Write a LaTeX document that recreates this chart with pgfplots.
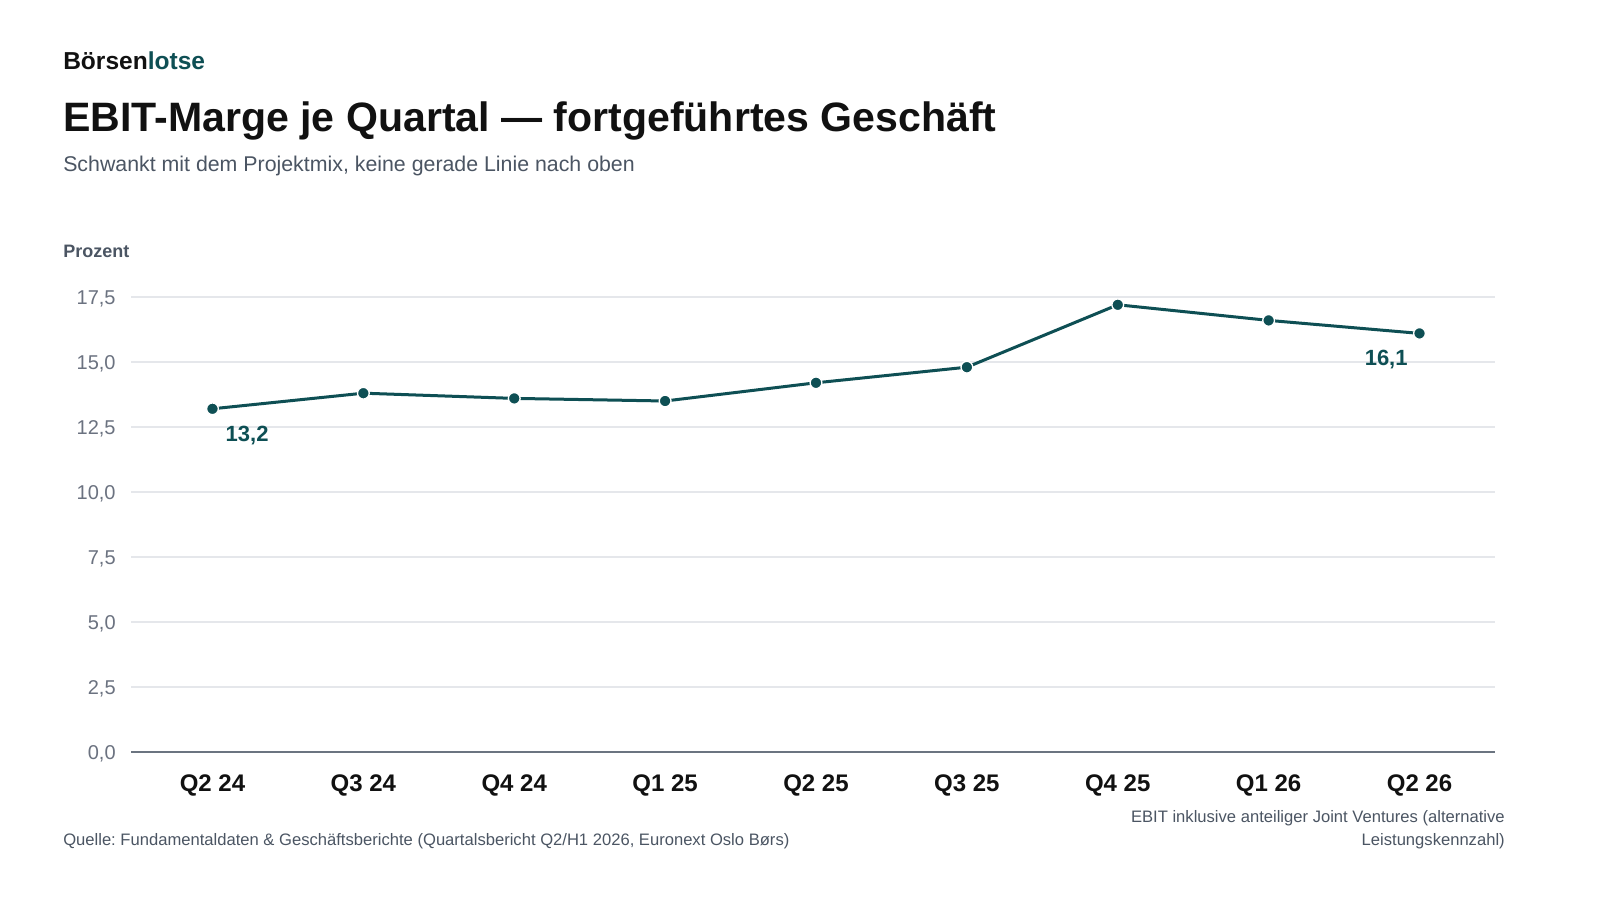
\documentclass[border=0pt]{standalone}
\usepackage{pgfplots}
\pgfplotsset{compat=1.18}
\usepackage{fontspec}
\setmainfont{Liberation Sans}
\frenchspacing
\definecolor{brandteal}{HTML}{0E4F54}
\definecolor{titleblack}{HTML}{111111}
\definecolor{subgray}{HTML}{4B5563}
\definecolor{tickgray}{HTML}{6B7280}
\definecolor{axisgray}{HTML}{6B7480}
\definecolor{gridgray}{HTML}{E5E7EB}
\begin{document}
\begin{tikzpicture}
\path[fill=white, use as bounding box] (0pt,0pt) rectangle (1200pt,675pt);
\node[anchor=base west, inner sep=0, font=\fontsize{18.4}{21}\selectfont\bfseries, text=titleblack] at (47.25pt,622.5pt) {Börsen\textcolor{brandteal}{lotse}};
\node[anchor=base west, inner sep=0, font=\fontsize{30.8}{36}\selectfont\bfseries, text=titleblack] at (47.25pt,576pt) {EBIT-Marge je Quartal — fortgeführtes Geschäft};
\node[anchor=base west, inner sep=0, font=\fontsize{16}{19}\selectfont, text=subgray] at (47.25pt,546pt) {Schwankt mit dem Projektmix, keine gerade Linie nach oben};
\node[anchor=base west, inner sep=0, font=\fontsize{13.5}{16}\selectfont\bfseries, text=subgray] at (47.25pt,481.5pt) {Prozent};
\begin{axis}[
  at={(98.25pt,111pt)}, anchor=south west,
  scale only axis, width=1023pt, height=341.25pt,
  xmin=-0.54, xmax=8.5, ymin=0, ymax=17.5,
  xtick={0,...,8},
  xticklabels={Q2 24,Q3 24,Q4 24,Q1 25,Q2 25,Q3 25,Q4 25,Q1 26,Q2 26},
  ytick={0,2.5,5,7.5,10,12.5,15,17.5},
  axis lines=left,
  axis line style={-},
  y axis line style={draw=none},
  x axis line style={draw=axisgray, line width=1.5pt},
  major tick length=0pt,
  ymajorgrids,
  grid style={draw=gridgray, line width=0.9pt},
  yticklabel style={font=\fontsize{15}{18}\selectfont, text=tickgray, anchor=base east, xshift=-8pt, yshift=-5.4pt},
  xticklabel style={font=\fontsize{18}{21}\selectfont\bfseries, text=titleblack, anchor=base, yshift=-30pt},
  /pgf/number format/use comma,
  /pgf/number format/fixed,
  /pgf/number format/fixed zerofill,
  /pgf/number format/precision=1,
  /pgf/number format/assume math mode=true,
  clip=false,
]
\addplot[brandteal, line width=2.25pt, mark=*, mark size=4.4pt, mark options={fill=brandteal, draw=white, line width=1pt}] coordinates {
(0,13.2) (1,13.8) (2,13.6) (3,13.5) (4,14.2) (5,14.8) (6,17.2) (7,16.6) (8,16.1)
};
\addplot[draw=none, mark=none, nodes near coords, point meta=y,
  every node near coord/.append style={font=\fontsize{16.5}{19}\selectfont\bfseries, text=brandteal, anchor=center, xshift=26pt, yshift=-20pt}]
  coordinates {(0,13.2)};
\addplot[draw=none, mark=none, nodes near coords, point meta=y,
  every node near coord/.append style={font=\fontsize{16.5}{19}\selectfont\bfseries, text=brandteal, anchor=center, xshift=-25pt, yshift=-19.5pt}]
  coordinates {(8,16.1)};
\end{axis}
\node[anchor=base west, inner sep=0, font=\fontsize{12.45}{14}\selectfont, text=subgray] at (47.25pt,40.5pt) {Quelle: Fundamentaldaten \& Geschäftsberichte (Quartalsbericht Q2/H1 2026, Euronext Oslo Børs)};
\node[anchor=base east, inner sep=0, font=\fontsize{12.45}{14}\selectfont, text=subgray] at (1128.75pt,57.75pt) {EBIT inklusive anteiliger Joint Ventures (alternative};
\node[anchor=base east, inner sep=0, font=\fontsize{12.45}{14}\selectfont, text=subgray] at (1128.75pt,40.5pt) {Leistungskennzahl)};
\end{tikzpicture}
\end{document}
